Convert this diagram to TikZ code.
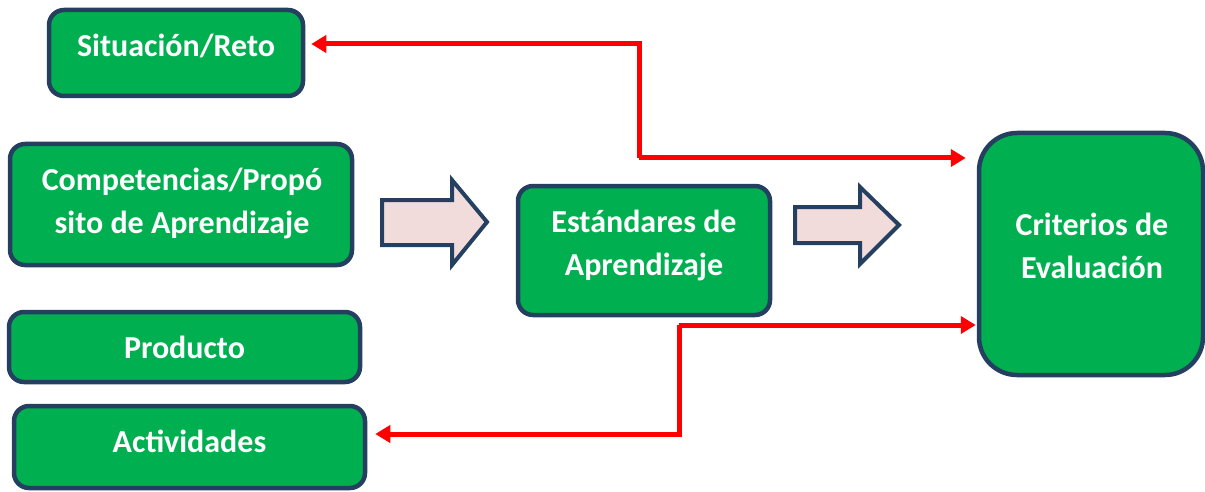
\documentclass[tikz,border=0pt]{standalone}
\usepackage{fontspec}
\setmainfont{Carlito}
\usetikzlibrary{arrows.meta}
\definecolor{boxgreen}{HTML}{00B050}
\definecolor{navy}{HTML}{243F60}
\definecolor{pinkfill}{HTML}{F2DCDB}
\definecolor{redline}{HTML}{FF0000}
\begin{document}
\begin{tikzpicture}[x=1pt,y=-1pt,
  gbox/.style={draw=navy,fill=boxgreen,line width=4.5pt,rounded corners=15pt,inner sep=0pt},
  gtext/.style={text=white,font=\fontsize{32}{43}\selectfont\bfseries,align=center,inner sep=0pt},
  barrow/.style={draw=navy,fill=pinkfill,line width=4pt,line join=miter},
  rline/.style={draw=redline,line width=5pt,-{Triangle[length=15pt,width=17pt]}}]
\useasboundingbox (0,0) rectangle (1205,492);
% boxes
\node[gbox,minimum width=254pt,minimum height=86pt] (sit) at (176,53) {};
\node[gtext] (sitt) at (176,46) {Situación/Reto};
\node[gbox,minimum width=342pt,minimum height=121pt] (comp) at (181,204.5) {};
\node[gtext] (compt) at (182,203) {Competencias/Propó\\sito de Aprendizaje};
\node[gbox,minimum width=351pt,minimum height=70pt] (prod) at (184.5,347) {};
\node[gtext] (prodt) at (184.5,347) {Producto};
\node[gbox,minimum width=351pt,minimum height=82pt] (act) at (189.5,447) {};
\node[gtext] (actt) at (189.5,441) {Actividades};
\node[gbox,minimum width=252pt,minimum height=129pt] (est) at (644,250.5) {};
\node[gtext] (estt) at (644,245.5) {Estándares de\\Aprendizaje};
\node[gbox,minimum width=224pt,minimum height=242pt,rounded corners=38pt] (crit) at (1091,254) {};
\node[gtext] (critt) at (1092,245.5) {Criterios de\\Evaluación};
% block arrows
\draw[barrow] (382,200) -- (452,200) -- (452,180) -- (487,222) -- (452,265) -- (452,245) -- (382,245) -- cycle;
\draw[barrow] (795,207) -- (860,207) -- (860,187) -- (899,225) -- (860,264) -- (860,243) -- (795,243) -- cycle;
% red connectors
\coordinate (c1) at (639,44);
\coordinate (c2) at (639,158);
\draw[rline] (c2) -- ([xshift=-11pt]c2 -| crit.west);
\draw[rline] (c2) -- (c1) -- ([xshift=6pt]c1 -| sit.east);
\coordinate (d1) at (679,325);
\coordinate (d2) at (679,434);
\draw[rline] (d1) -- ([xshift=-1pt]d1 -| crit.west);
\draw[rline] (d1) -- (d2) -- ([xshift=8pt]d2 -| act.east);
\end{tikzpicture}
\end{document}
